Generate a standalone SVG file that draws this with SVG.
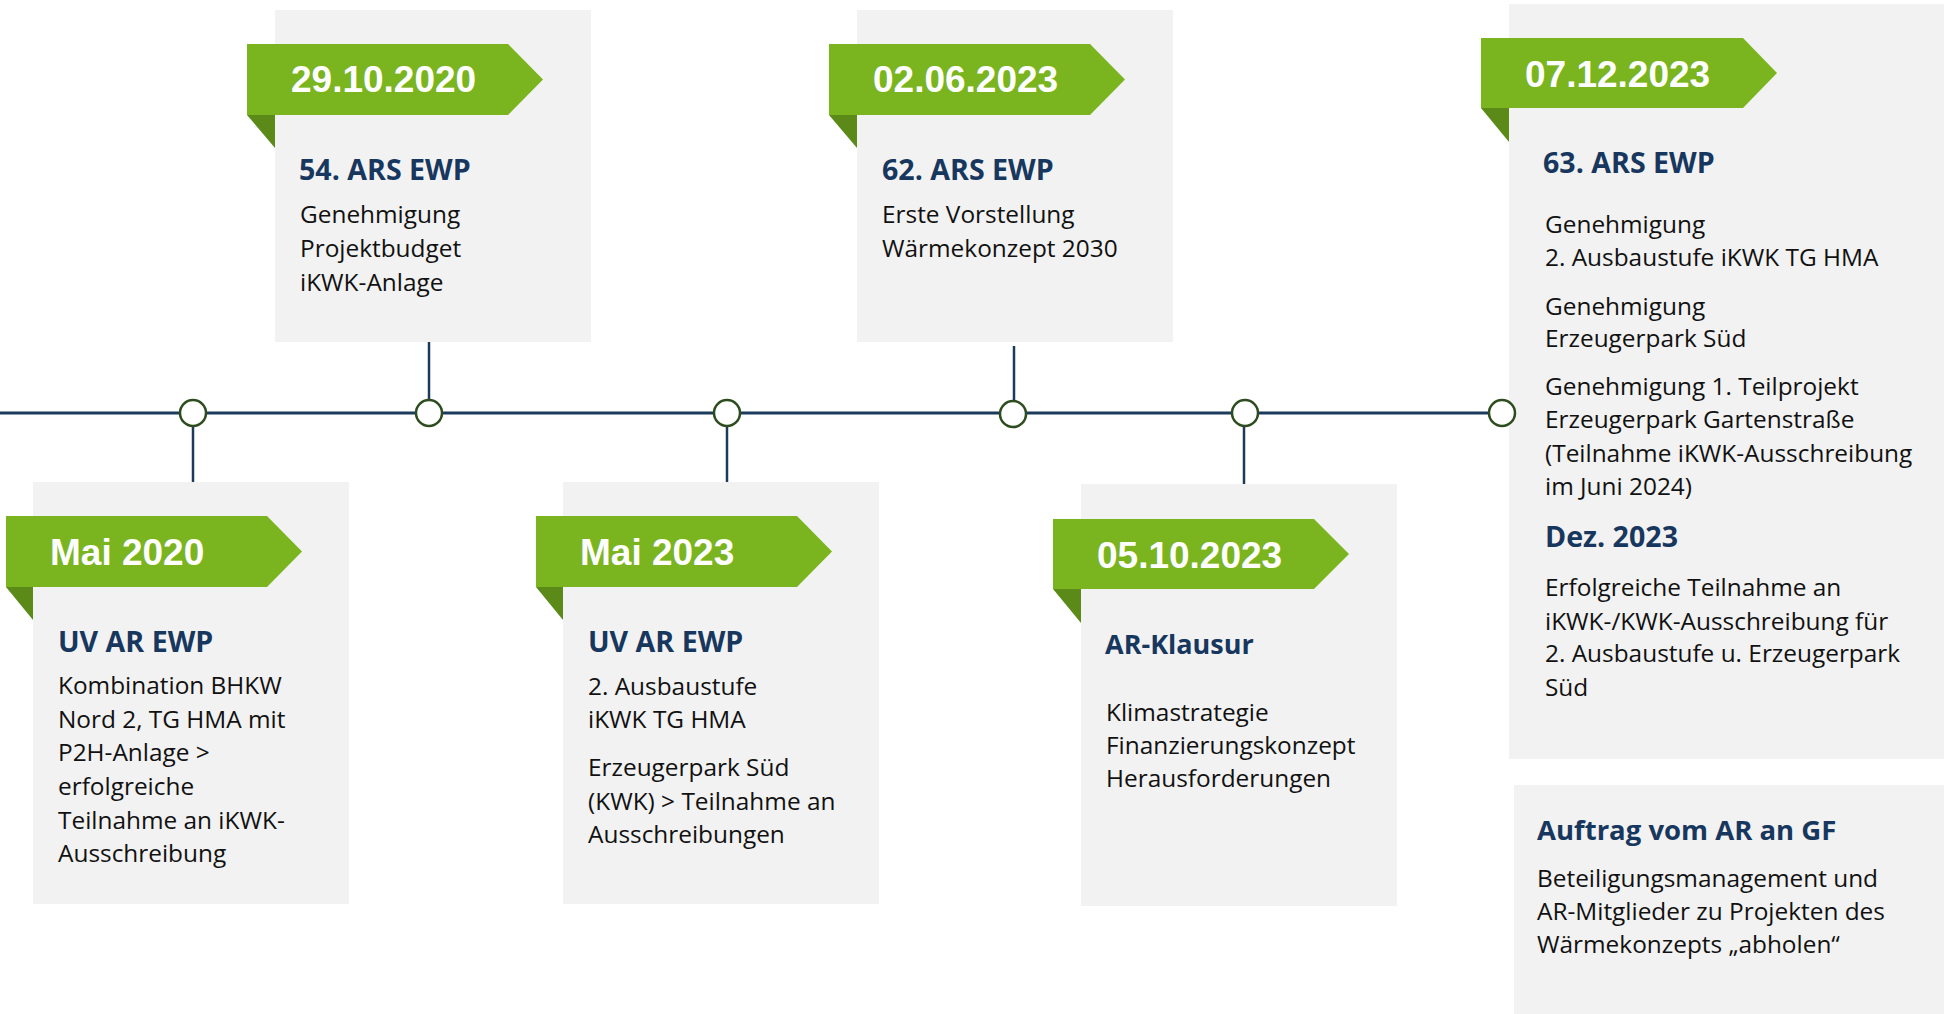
<svg xmlns="http://www.w3.org/2000/svg" width="1944" height="1014" viewBox="0 0 1944 1014">
  <defs>
    <style>
      .card { fill: #f2f2f2; }
      .flag { fill: #7ab51f; }
      .fold { fill: #5b8a18; }
      .date { font-family: "Liberation Sans", Arial, sans-serif; font-weight: bold; font-size: 37px; fill: #ffffff; }
      .title { font-family: "Open Sans", "Noto Sans", sans-serif; font-weight: bold; font-size: 28.6px; fill: #17375e; }
      .body { font-family: "Open Sans", "Noto Sans", sans-serif; font-size: 24.4px; fill: #111111; }
      .axis { stroke: #1b3a5c; stroke-width: 3; fill: none; }
      .stem { stroke: #1b3a5c; stroke-width: 2.5; fill: none; }
      .dot { fill: #ffffff; stroke: #2e4d1f; stroke-width: 2.5; }
    </style>
  </defs>
  <rect width="1944" height="1014" fill="#ffffff"/>

  <!-- Mai 2020 -->
  <g id="event-mai-2020">
    <rect class="card" x="33" y="482" width="316" height="422"/>
    <polygon class="fold" points="6,587 33,587 33,620"/>
    <polygon class="flag" points="6,516 267,516 302,551.5 267,587 6,587"/>
    <text class="date" x="50" y="565">Mai 2020</text>
    <text class="title" x="58" y="652">UV AR EWP</text>
    <text class="body" x="58" y="694">Kombination BHKW</text>
    <text class="body" x="58" y="728">Nord 2, TG HMA mit</text>
    <text class="body" x="58" y="761">P2H-Anlage &gt;</text>
    <text class="body" x="58" y="795">erfolgreiche</text>
    <text class="body" x="58" y="829">Teilnahme an iKWK-</text>
    <text class="body" x="58" y="862">Ausschreibung</text>
  </g>

  <!-- 29.10.2020 -->
  <g id="event-29-10-2020">
    <rect class="card" x="275" y="10" width="316" height="332"/>
    <polygon class="fold" points="247,115 275,115 275,148"/>
    <polygon class="flag" points="247,44 508,44 543,79.5 508,115 247,115"/>
    <text class="date" x="291" y="92">29.10.2020</text>
    <text class="title" x="299" y="180">54. ARS EWP</text>
    <text class="body" x="300" y="223">Genehmigung</text>
    <text class="body" x="300" y="257">Projektbudget</text>
    <text class="body" x="300" y="291">iKWK-Anlage</text>
  </g>

  <!-- Mai 2023 -->
  <g id="event-mai-2023">
    <rect class="card" x="563" y="482" width="316" height="422"/>
    <polygon class="fold" points="536,587 563,587 563,620"/>
    <polygon class="flag" points="536,516 797,516 832,551.5 797,587 536,587"/>
    <text class="date" x="580" y="565">Mai 2023</text>
    <text class="title" x="588" y="652">UV AR EWP</text>
    <text class="body" x="588" y="695">2. Ausbaustufe</text>
    <text class="body" x="588" y="728">iKWK TG HMA</text>
    <text class="body" x="588" y="776">Erzeugerpark Süd</text>
    <text class="body" x="588" y="810">(KWK) &gt; Teilnahme an</text>
    <text class="body" x="588" y="843">Ausschreibungen</text>
  </g>

  <!-- 02.06.2023 -->
  <g id="event-02-06-2023">
    <rect class="card" x="857" y="10" width="316" height="332"/>
    <polygon class="fold" points="829,115 857,115 857,148"/>
    <polygon class="flag" points="829,44 1090,44 1125,79.5 1090,115 829,115"/>
    <text class="date" x="873" y="92">02.06.2023</text>
    <text class="title" x="882" y="180">62. ARS EWP</text>
    <text class="body" x="882" y="223">Erste Vorstellung</text>
    <text class="body" x="882" y="257">Wärmekonzept 2030</text>
  </g>

  <!-- 05.10.2023 -->
  <g id="event-05-10-2023">
    <rect class="card" x="1081" y="484" width="316" height="422"/>
    <polygon class="fold" points="1053,589 1081,589 1081,623"/>
    <polygon class="flag" points="1053,519 1314,519 1349,554 1314,589 1053,589"/>
    <text class="date" x="1097" y="568">05.10.2023</text>
    <text class="title" x="1105" y="654" style="font-size:27px">AR-Klausur</text>
    <text class="body" x="1106" y="721">Klimastrategie</text>
    <text class="body" x="1106" y="754">Finanzierungskonzept</text>
    <text class="body" x="1106" y="787">Herausforderungen</text>
  </g>

  <!-- 07.12.2023 -->
  <g id="event-07-12-2023">
    <rect class="card" x="1509" y="4" width="435" height="755"/>
    <polygon class="fold" points="1481,108 1509,108 1509,142"/>
    <polygon class="flag" points="1481,38 1743,38 1777,73 1743,108 1481,108"/>
    <text class="date" x="1525" y="87">07.12.2023</text>
    <text class="title" x="1543" y="173">63. ARS EWP</text>
    <text class="body" x="1545" y="233">Genehmigung</text>
    <text class="body" x="1545" y="266">2. Ausbaustufe iKWK TG HMA</text>
    <text class="body" x="1545" y="315">Genehmigung</text>
    <text class="body" x="1545" y="347">Erzeugerpark Süd</text>
    <text class="body" x="1545" y="395">Genehmigung 1. Teilprojekt</text>
    <text class="body" x="1545" y="428">Erzeugerpark Gartenstraße</text>
    <text class="body" x="1545" y="462">(Teilnahme iKWK-Ausschreibung</text>
    <text class="body" x="1545" y="495">im Juni 2024)</text>
    <text class="title" x="1545" y="547">Dez. 2023</text>
    <text class="body" x="1545" y="596">Erfolgreiche Teilnahme an</text>
    <text class="body" x="1545" y="630">iKWK-/KWK-Ausschreibung für</text>
    <text class="body" x="1545" y="662">2. Ausbaustufe u. Erzeugerpark</text>
    <text class="body" x="1545" y="696">Süd</text>
  </g>

  <!-- Auftrag vom AR an GF -->
  <g id="note-auftrag">
    <rect class="card" x="1514" y="785" width="430" height="229"/>
    <text class="title" x="1537" y="840" style="font-size:27.5px">Auftrag vom AR an GF</text>
    <text class="body" x="1537" y="887">Beteiligungsmanagement und</text>
    <text class="body" x="1537" y="920">AR-Mitglieder zu Projekten des</text>
    <text class="body" x="1537" y="953">Wärmekonzepts „abholen“</text>
  </g>

  <!-- timeline axis, stems and markers (drawn last so the end marker sits on top of the card) -->
  <g id="connectors">
    <line class="axis" x1="0" y1="413" x2="1489" y2="413"/>
    <line class="stem" x1="193" y1="413" x2="193" y2="482"/>
    <line class="stem" x1="429" y1="342" x2="429" y2="413"/>
    <line class="stem" x1="727" y1="413" x2="727" y2="482"/>
    <line class="stem" x1="1014" y1="346" x2="1014" y2="413"/>
    <line class="stem" x1="1244" y1="413" x2="1244" y2="484"/>
    <circle class="dot" cx="193" cy="413" r="13"/>
    <circle class="dot" cx="429" cy="413" r="13"/>
    <circle class="dot" cx="727" cy="413" r="13"/>
    <circle class="dot" cx="1013" cy="414" r="13"/>
    <circle class="dot" cx="1245" cy="413" r="13"/>
    <circle class="dot" cx="1502" cy="413" r="13"/>
  </g>
</svg>
